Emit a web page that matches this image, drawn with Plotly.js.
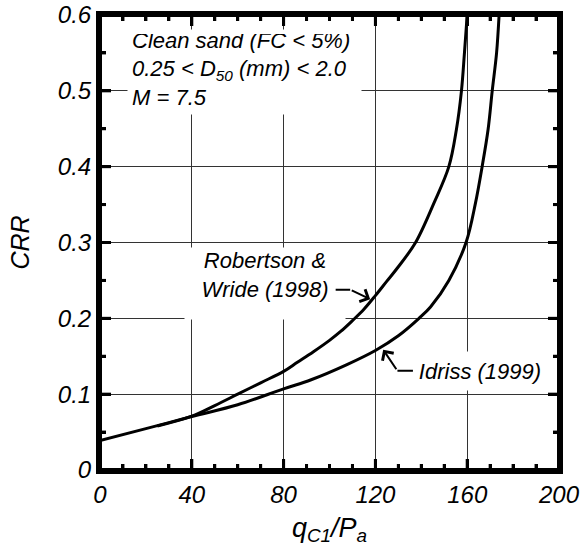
<!DOCTYPE html>
<html>
<head>
<meta charset="utf-8">
<script src="https://cdn.plot.ly/plotly-3.0.1.min.js"></script>
<style>html,body{margin:0;padding:0;background:#fff;}#chart{width:584px;height:556px;}</style>
</head>
<body>
<div id="chart"></div>
<script>
// Robertson & Wride (1998) curve
const rwQ   = [25, 40, 50, 60, 70, 80, 86, 93, 100, 105, 110, 115, 120, 125, 130, 137.5, 145.5, 152, 155.3, 157.5, 158.8, 160];
const rwCRR = [0.058, 0.071, 0.085, 0.100, 0.115, 0.130, 0.142, 0.156, 0.171, 0.183, 0.197, 0.212, 0.230, 0.249, 0.268, 0.300, 0.352, 0.400, 0.449, 0.500, 0.550, 0.600];
// Idriss (1999) curve
const idQ   = [0, 20, 40, 60, 80, 92, 107.6, 120, 130, 139, 144, 152, 159.5, 163.6, 166.5, 169.1, 170.9, 172.8, 173.9];
const idCRR = [0.039, 0.0545, 0.0705, 0.086, 0.107, 0.119, 0.139, 0.1576, 0.177, 0.200, 0.215, 0.250, 0.300, 0.352, 0.400, 0.449, 0.500, 0.550, 0.600];
// ticks
const xTicks = [0, 40, 80, 120, 160, 200];
const xTickText = ['0', '40', '80', '120', '160', '200'];
const xMinor = [10, 20, 30, 50, 60, 70, 90, 100, 110, 130, 140, 150, 170, 180, 190];
const yTicks = [0, 0.1, 0.2, 0.3, 0.4, 0.5, 0.6];
const yTickText = ['0', '0.1', '0.2', '0.3', '0.4', '0.5', '0.6'];
const yMinor = [0.05, 0.15, 0.25, 0.35, 0.45, 0.55];

const FONT = 'Liberation Sans, Arial, sans-serif';
function fnt(sz) { return {family: FONT, size: sz, color: '#000', style: 'italic'}; }

const traces = [
  {x: rwQ, y: rwCRR, type: 'scatter', mode: 'lines', line: {color: '#000', width: 3, shape: 'spline', smoothing: 1}, hoverinfo: 'skip'},
  {x: idQ, y: idCRR, type: 'scatter', mode: 'lines', line: {color: '#000', width: 3, shape: 'spline', smoothing: 1}, hoverinfo: 'skip'}
];

function axis(extra) {
  return Object.assign({
    showline: true, linecolor: '#000', linewidth: 4, mirror: 'allticks',
    ticks: 'inside', ticklen: 11, tickwidth: 3, tickcolor: '#000',
    showgrid: true, gridcolor: '#333', gridwidth: 1, zeroline: false,
    tickfont: fnt(24)
  }, extra);
}

// frame and inside ticks on all four sides, placed through the axis scales
const MAJ = 11, MIN = 6, TW = 3;
const shapes = [{type: 'rect', xref: 'paper', yref: 'paper', x0: 0, x1: 1, y0: 0, y1: 1,
                 line: {color: '#000', width: 4}, fillcolor: 'rgba(0,0,0,0)', layer: 'above'}];
function xTick(v, len) {
  shapes.push({type: 'line', xref: 'x', yref: 'paper', ysizemode: 'pixel', yanchor: 0, x0: v, x1: v, y0: 0, y1: len, line: {color: '#000', width: TW}, layer: 'above'});
  shapes.push({type: 'line', xref: 'x', yref: 'paper', ysizemode: 'pixel', yanchor: 1, x0: v, x1: v, y0: 0, y1: -len, line: {color: '#000', width: TW}, layer: 'above'});
}
function yTick(v, len) {
  shapes.push({type: 'line', yref: 'y', xref: 'paper', xsizemode: 'pixel', xanchor: 0, y0: v, y1: v, x0: 0, x1: len, line: {color: '#000', width: TW}, layer: 'above'});
  shapes.push({type: 'line', yref: 'y', xref: 'paper', xsizemode: 'pixel', xanchor: 1, y0: v, y1: v, x0: 0, x1: -len, line: {color: '#000', width: TW}, layer: 'above'});
}
xTicks.slice(1, -1).forEach(v => xTick(v, MAJ));
xMinor.forEach(v => xTick(v, MIN));
yTicks.slice(1, -1).forEach(v => yTick(v, MAJ));
yMinor.forEach(v => yTick(v, MIN));

const layout = {
  width: 584, height: 556,
  margin: {l: 100, r: 25, t: 15, b: 86},
  paper_bgcolor: '#fff', plot_bgcolor: '#fff',
  showlegend: false,
  xaxis: axis({
    range: [0, 200], tickmode: 'array', tickvals: xTicks, ticktext: xTickText,
    minor: {dtick: 10, ticks: 'inside', ticklen: 6, tickwidth: 3, tickcolor: '#000'},
    title: {text: 'q<sub>C1</sub>/P<sub>a</sub>', font: fnt(27), standoff: 12}
  }),
  yaxis: axis({
    range: [0, 0.6], tickmode: 'array', tickvals: yTicks, ticktext: yTickText,
    minor: {dtick: 0.05, ticks: 'inside', ticklen: 6, tickwidth: 3, tickcolor: '#000'},
    title: {text: 'CRR', font: fnt(25), standoff: 22}
  }),
  shapes: shapes,
  annotations: [
    {xref: 'paper', yref: 'paper', x: 0.0588, y: 0.970, xanchor: 'left', yanchor: 'top', align: 'left', valign: 'bottom',
     width: 225, height: 76, borderpad: 4, bgcolor: '#fff', showarrow: false,
     text: 'Clean sand (FC &lt; 5%)<br>0.25 &lt; D<sub>50</sub> (mm) &lt; 2.0<br>M = 7.5', font: fnt(22)},
    {xref: 'paper', yref: 'paper', x: 0.3595, y: 0.409, xanchor: 'center', yanchor: 'middle', align: 'center', valign: 'top',
     width: 160, height: 71, borderpad: 0, bgcolor: '#fff', showarrow: false,
     text: 'Robertson &amp;<br>Wride (1998)', font: fnt(22)},
    {xref: 'paper', yref: 'paper', x: 0.8279, y: 0.2165, xanchor: 'center', yanchor: 'middle', align: 'center', valign: 'middle',
     width: 136, height: 38, borderpad: 0, bgcolor: '#fff', showarrow: false,
     text: 'Idriss (1999)', font: fnt(22)},
    {xref: 'x', yref: 'y', x: 109.0, y: 0.2378, text: '', showarrow: true, ax: -16, ay: 0,
     arrowhead: 0, arrowwidth: 2, arrowcolor: '#000', standoff: 0},
    {xref: 'x', yref: 'y', x: 118.5, y: 0.224, text: '', showarrow: true, ax: -21.7, ay: -10.4,
     arrowhead: 4, arrowsize: 1.3, arrowwidth: 2, arrowcolor: '#000', standoff: 2},
    {xref: 'x', yref: 'y', x: 129.6, y: 0.1308, text: '', showarrow: true, ax: 17, ay: 0,
     arrowhead: 0, arrowwidth: 2, arrowcolor: '#000', standoff: 0},
    {xref: 'x', yref: 'y', x: 122.9, y: 0.1608, text: '', showarrow: true, ax: 15.3, ay: 22.7,
     arrowhead: 4, arrowsize: 1.3, arrowwidth: 2, arrowcolor: '#000', standoff: 2}
  ]
};

Plotly.newPlot('chart', traces, layout, {displayModeBar: false});
</script>
</body>
</html>
